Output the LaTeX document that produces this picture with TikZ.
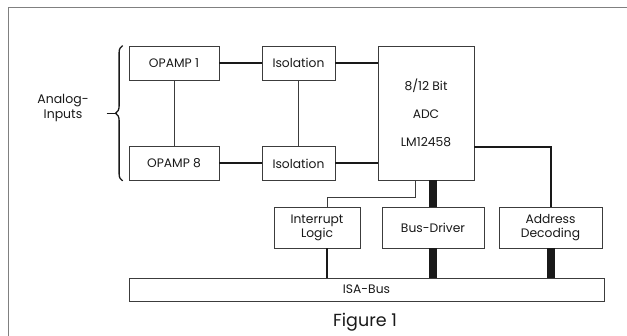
\documentclass[tikz,border=0pt]{standalone}
\usepackage{fontspec}
\setmainfont{Poppins}
\usepackage{tikz}
\usetikzlibrary{calc, decorations.pathreplacing}
\definecolor{frame}{RGB}{128,128,128}
\definecolor{boxline}{RGB}{60,60,60}
\definecolor{ink}{RGB}{25,25,25}

\begin{document}
\begin{tikzpicture}[x=1pt, y=-1pt,
    block/.style={draw=boxline, line width=0.8pt, fill=white, text=ink, font=\fontsize{12.3}{14}\selectfont, align=center, inner sep=0pt},
    dataline/.style={line width=2pt, ink},
    thinline/.style={line width=0.8pt, boxline},
    busline/.style={line width=8pt, ink}]
  \useasboundingbox (0,0) rectangle (627,336);
  \draw[frame, line width=1pt] (8,336) -- (8,8) -- (627,8);

  \node[block, minimum width=90, minimum height=34] (op1) at (174,63) {OPAMP 1};
  \node[block, minimum width=90, minimum height=34] (op8) at (174,163.5) {OPAMP 8};
  \node[block, minimum width=73, minimum height=34] (iso1) at (298.5,63) {Isolation};
  \node[block, minimum width=73, minimum height=34] (iso8) at (298.5,163.5) {Isolation};
  \node[block, minimum width=96, minimum height=134, font=\fontsize{12.3}{28}\selectfont] (adc) at (426,113) {8/12 Bit\\ADC\\LM12458};
  \node[block, minimum width=86, minimum height=41, font=\fontsize{12.3}{14}\selectfont] (intr) at (317,227.5) {Interrupt\\Logic};
  \node[block, minimum width=102, minimum height=41] (drv) at (433,227.5) {Bus-Driver};
  \node[block, minimum width=103, minimum height=41] (addr) at (550.5,227.5) {Address\\Decoding};
  \node[block, minimum width=475, minimum height=23] (bus) at (366.5,289.5) {ISA-Bus};

  \node[text=ink, font=\fontsize{12.5}{15}\selectfont, align=center] (ain) at (63,108) {Analog-\\Inputs};
  \node[text=ink, font=\fontsize{17.5}{20}\selectfont] (fig) at (365,322) {Figure 1};

  \draw[ink, line width=1.3pt, decorate, decoration={brace, amplitude=7pt}]
    ([xshift=-6pt]op8.south west) -- ([xshift=-6pt]op1.north west);
  \draw[ink, line width=1.3pt] ([xshift=-22pt]$(op1.west)!.5!(op8.west)$) -- ++(10,0);

  \draw[thinline] (op1) -- (op8);
  \draw[thinline] (iso1) -- (iso8);
  \draw[dataline] (op1) -- (iso1);
  \draw[dataline] (op8) -- (iso8);
  \draw[dataline] (iso1.east) -- (iso1.east -| adc.west);
  \draw[dataline] (iso8.east) -- (iso8.east -| adc.west);

  \draw[thinline] ([xshift=-11pt]adc.south) -- ++(0,17) -| ([xshift=10pt]intr.north);
  \draw[ink, line width=1.4pt] ([xshift=10pt]intr.south) -- ([xshift=10pt]intr.south |- bus.north);
  \draw[busline] (drv.north |- adc.south) -- (drv.north);
  \draw[busline] (drv.south) -- (drv.south |- bus.north);
  \draw[dataline] ([yshift=-34pt]adc.east) -| (addr.north);
  \draw[busline] (addr.south) -- (addr.south |- bus.north);
\end{tikzpicture}
\end{document}
